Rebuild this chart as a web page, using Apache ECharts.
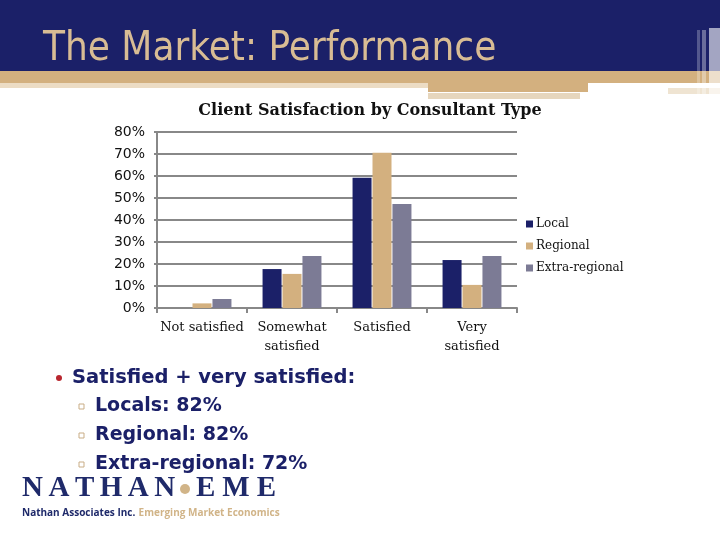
<!DOCTYPE html>
<html>
<head>
<meta charset="utf-8">
<script src="https://cdn.jsdelivr.net/npm/echarts@6/dist/echarts.min.js"></script>
<style>
  html, body { margin: 0; padding: 0; background: #fff; }
  #main { width: 720px; height: 540px; }
</style>
</head>
<body>
<div id="main"></div>
<script>
// 数据
var categories = ['Not satisfied', 'Somewhat\nsatisfied', 'Satisfied', 'Very\nsatisfied'];
var local = [0, 17.7, 59.2, 21.8];
var regional = [2.1, 15.5, 70.6, 10.5];
var extraRegional = [4.1, 23.6, 47.3, 23.6];
var yTicks = [0, 10, 20, 30, 40, 50, 60, 70, 80];
var bullets = ['Satisfied + very satisfied:', 'Locals: 82%', 'Regional: 82%', 'Extra-regional: 72%'];

var NAVY = '#1b2068';
var TAN = '#d3b07f';
var GREY = '#7c7b95';
var LOGO_NAVY = '#1f2a6a';

var myChart = echarts.init(document.getElementById('main'));

// 标志字母逐个放，模拟字距 (Times Bold 字宽)
var glyphW = { N: 0.722, A: 0.722, T: 0.667, H: 0.778, E: 0.667, M: 0.944 };
function logoLetters(text, x0, size, gap) {
    var out = [];
    var x = x0;
    for (var i = 0; i < text.length; i++) {
        out.push({
            type: 'text', left: x, top: 474,
            style: { text: text[i], fontFamily: 'Liberation Serif', fontWeight: 'bold', fontSize: size, fill: LOGO_NAVY }
        });
        x += glyphW[text[i]] * size + gap;
    }
    return out;
}

var graphics = [
    // 页眉
    { type: 'rect', shape: { x: 0, y: 0, width: 720, height: 71 }, style: { fill: '#1b2068' }, z: 0 },
    { type: 'rect', shape: { x: 0, y: 71, width: 720, height: 12 }, style: { fill: '#d3b07f' }, z: 0 },
    { type: 'rect', shape: { x: 0, y: 83, width: 428, height: 5 }, style: { fill: '#ecdcc4' }, z: 0 },
    { type: 'rect', shape: { x: 428, y: 83, width: 160, height: 9 }, style: { fill: '#d3b07f' }, z: 0 },
    { type: 'rect', shape: { x: 428, y: 93, width: 152, height: 6 }, style: { fill: '#e6d6bd' }, z: 0 },
    { type: 'rect', shape: { x: 668, y: 88, width: 52, height: 6 }, style: { fill: '#efe4d2' }, z: 0 },
    { type: 'rect', shape: { x: 697, y: 30, width: 3, height: 70 }, style: { fill: 'rgba(255,255,255,0.25)' }, z: 1 },
    { type: 'rect', shape: { x: 702, y: 30, width: 4, height: 70 }, style: { fill: 'rgba(255,255,255,0.35)' }, z: 1 },
    { type: 'rect', shape: { x: 709, y: 28, width: 11, height: 72 }, style: { fill: 'rgba(255,255,255,0.6)' }, z: 1 },
    {
        type: 'text', left: 43, top: 30, z: 2,
        style: { text: 'The Market: Performance', fontFamily: 'DejaVu Sans Condensed', fontSize: 40, fill: '#d8bc94' }
    },
    // 要点
    { type: 'circle', shape: { cx: 59, cy: 378, r: 3 }, style: { fill: '#b8262e' } },
    {
        type: 'text', left: 72, top: 368,
        style: { text: bullets[0], fontFamily: 'DejaVu Sans', fontWeight: 'bold', fontSize: 19.5, fill: NAVY }
    },
    { type: 'rect', shape: { x: 79, y: 404, width: 5, height: 5 }, style: { fill: 'none', stroke: '#c9ad86', lineWidth: 1 } },
    {
        type: 'text', left: 95, top: 397,
        style: { text: bullets[1], fontFamily: 'DejaVu Sans', fontWeight: 'bold', fontSize: 19, fill: NAVY }
    },
    { type: 'rect', shape: { x: 79, y: 433, width: 5, height: 5 }, style: { fill: 'none', stroke: '#c9ad86', lineWidth: 1 } },
    {
        type: 'text', left: 95, top: 426,
        style: { text: bullets[2], fontFamily: 'DejaVu Sans', fontWeight: 'bold', fontSize: 19, fill: NAVY }
    },
    { type: 'rect', shape: { x: 79, y: 462, width: 5, height: 5 }, style: { fill: 'none', stroke: '#c9ad86', lineWidth: 1 } },
    {
        type: 'text', left: 95, top: 455,
        style: { text: bullets[3], fontFamily: 'DejaVu Sans', fontWeight: 'bold', fontSize: 19, fill: NAVY }
    },
    // 标志
    { type: 'circle', shape: { cx: 185, cy: 489, r: 5 }, style: { fill: '#d1b488' } },
    {
        type: 'text', left: 22, top: 507,
        style: {
            text: '{a|Nathan Associates Inc.} {b|Emerging Market Economics}',
            rich: {
                a: { fontFamily: 'Open Sans', fontWeight: 'bold', fontSize: 10, fill: LOGO_NAVY },
                b: { fontFamily: 'Open Sans', fontWeight: 'bold', fontSize: 10, fill: '#d1b488' }
            }
        }
    }
];
graphics = graphics.concat(logoLetters('NATHAN', 22, 29, 5.5), logoLetters('EME', 196, 29, 7));

var option = {
    backgroundColor: '#fff',
    animation: false,
    title: {
        text: 'Client Satisfaction by Consultant Type',
        left: 365,
        textAlign: 'center',
        top: 98,
        textStyle: {
            fontFamily: 'DejaVu Serif',
            fontWeight: 'bold',
            fontSize: 16,
            color: '#111'
        }
    },
    legend: {
        orient: 'vertical',
        left: 521,
        top: 213,
        itemWidth: 7,
        itemHeight: 7,
        itemGap: 10,
        icon: 'rect',
        textStyle: { fontFamily: 'DejaVu Serif', fontSize: 12, color: '#111', padding: [0, 0, 0, -2] },
        data: ['Local', 'Regional', 'Extra-regional']
    },
    grid: {
        left: 157,
        top: 132,
        right: 203,
        bottom: 232
    },
    xAxis: {
        type: 'category',
        data: categories,
        axisLine: { lineStyle: { color: '#888', width: 2 } },
        axisTick: { show: true, length: 5, lineStyle: { color: '#888', width: 2 } },
        axisLabel: {
            margin: 10,
            fontFamily: 'DejaVu Serif',
            fontSize: 13,
            lineHeight: 19,
            color: '#111',
            interval: 0
        }
    },
    yAxis: {
        type: 'value',
        min: yTicks[0],
        max: yTicks[yTicks.length - 1],
        interval: 10,
        axisLine: { show: true, lineStyle: { color: '#888', width: 2 } },
        axisTick: { show: true, length: 3, lineStyle: { color: '#888', width: 2 } },
        splitLine: { lineStyle: { color: '#888', width: 2 } },
        axisLabel: {
            margin: 12,
            formatter: '{value}%',
            fontFamily: 'DejaVu Sans',
            fontSize: 14,
            color: '#111'
        }
    },
    series: [
        { name: 'Local', type: 'bar', data: local, itemStyle: { color: NAVY }, barWidth: 19, barGap: '5%' },
        { name: 'Regional', type: 'bar', data: regional, itemStyle: { color: TAN }, barWidth: 19, barGap: '5%' },
        { name: 'Extra-regional', type: 'bar', data: extraRegional, itemStyle: { color: GREY }, barWidth: 19, barGap: '5%' }
    ],
    graphic: graphics
};

if (option && typeof option === "object") {
    myChart.setOption(option, true);
}
</script>
</body>
</html>
